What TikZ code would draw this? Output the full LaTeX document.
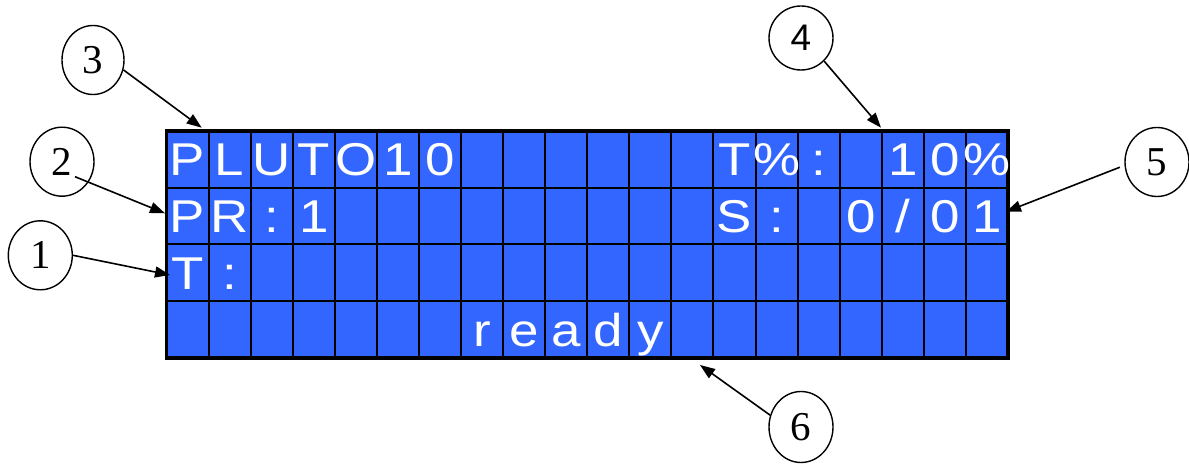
\documentclass[tikz,border=0pt]{standalone}
\usepackage{fontspec}
\setmainfont{Liberation Serif}
\newfontfamily\lcdfont[FakeStretch=1.15]{Liberation Sans}
\newfontfamily\numsans{Liberation Sans}
\usepackage{xcolor}
\usepackage{tikz}
\usetikzlibrary{calc,arrows.meta,shapes.geometric}
\definecolor{lcdblue}{RGB}{51,102,255}

\begin{document}
\begin{tikzpicture}[x=1pt,y=1pt,
    callout/.style={ellipse,draw,line width=1.4pt,minimum width=64pt,minimum height=69pt,inner sep=0pt,font=\fontsize{41}{41}\selectfont},
    pointer/.style={line width=1.6pt,-{Triangle[length=15pt,width=11pt]}},
    lcdchar/.style={text=white,inner sep=0pt,anchor=base,yshift=12pt,font=\lcdfont\fontsize{46}{46}\selectfont}]

    \useasboundingbox (0,0) rectangle (1189,464);

    %display
    \begin{scope}[shift={(166.5,106)},x=42.075pt,y=56.75pt]
    \fill[lcdblue] (0,0) rectangle (20,4);
    \foreach \i in {1,...,19}
    \draw[line width=2pt] (\i,0) -- (\i,4);
    \foreach \j in {1,2,3}
    \draw[line width=2pt] (0,\j) -- (20,\j);
    \draw[line width=3.5pt] (0,0) rectangle (20,4);
    %characters: column/row/char
    \foreach \c/\r/\ch in {1/1/P,2/1/L,3/1/U,4/1/T,5/1/O,6/1/1,7/1/0,
        14/1/T,15/1/\%,16/1/:,18/1/1,19/1/0,20/1/\%,
        1/2/P,2/2/R,3/2/:,4/2/1,14/2/S,15/2/:,17/2/0,18/2/{/},19/2/0,20/2/1,
        1/3/T,2/3/:,
        8/4/r,9/4/e,10/4/a,11/4/d,12/4/y}{
    	\node[lcdchar] (ch-\r-\c) at (\c-0.5,4-\r) {\ch};
    }
    \end{scope}

    %callouts
    \node[callout] (n1) at (40.3,208.7) {1};
    \node[callout] (n2) at (62,302.3) {2};
    \node[callout,minimum width=62pt] (n3) at (93,404) {3};
    \node[callout,minimum height=64pt,font=\numsans\fontsize{37}{37}\selectfont] (n4) at (801,426) {4};
    \node[callout] (n5) at (1157,302) {5};
    \node[callout,minimum height=71pt] (n6) at (801,37) {6};

    %tips
    \coordinate (t1) at (170,189);
    \coordinate (t2) at (165,250.7);
    \coordinate (t3) at (201.7,336.3);
    \coordinate (t4) at (881,336.3);
    \coordinate (t5) at (1006,252.3);
    \coordinate (t6) at (700,99);

    %pointers
    \draw[pointer] (n1.east) -- (t1);
    \draw[pointer] ([shift={(13,-15)}]n2.center) -- (t2);
    \draw[pointer] (n3.-18) -- (t3);
    \draw[pointer] (n4.-45) -- (t4);
    \draw[pointer,shorten <=5pt] (n5.186) -- (t5);
    \draw[pointer] (n6.159) -- (t6);

\end{tikzpicture}
\end{document}
